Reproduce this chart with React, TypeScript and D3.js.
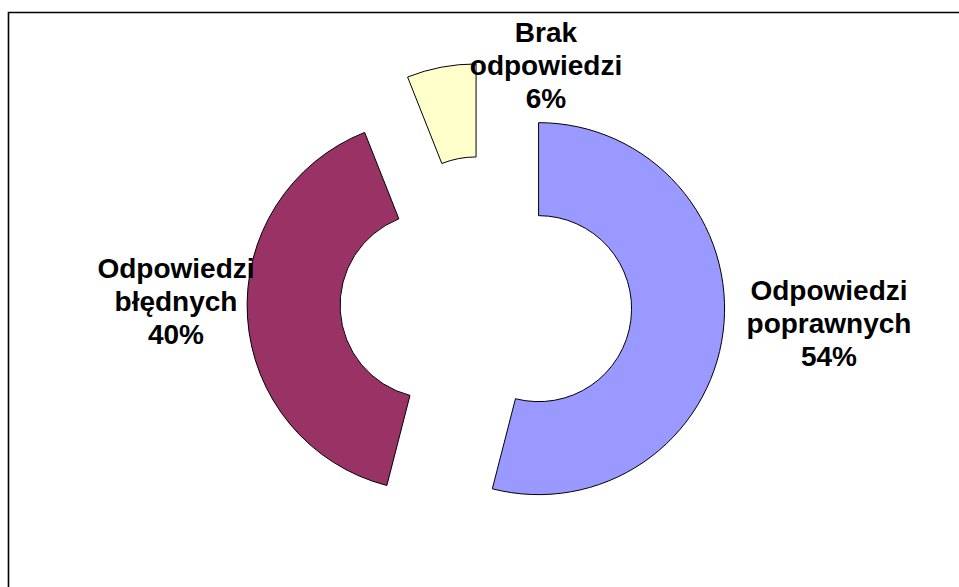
import React from "react";
import * as d3 from "d3";

// slice values (percent)
const categories = ["Odpowiedzi poprawnych", "Odpowiedzi błędnych", "Brak odpowiedzi"];
const values = [54, 40, 6];
const colors = ["#9999FF", "#993366", "#FFFFCC"];
// label text, one array of lines per slice
const labelLines = [
  ["Odpowiedzi", "poprawnych", "54%"],
  ["Odpowiedzi", "błędnych", "40%"],
  ["Brak", "odpowiedzi", "6%"],
];

const W = 959;
const H = 587;
const cx = 486;
const cy = 302;
const outerR = 186;
const innerR = 93;
const explode = 53;
const fontSize = 28;
const lineH = 33;
// label block centres (Excel places these by hand)
const labelPos = [
  [829, 323],
  [176, 301],
  [546, 65],
];

export default function App() {
  const pie = d3.pie<number>().sort(null).startAngle(0).endAngle(2 * Math.PI);
  const arcs = pie(values);
  const arc = d3.arc<d3.PieArcDatum<number>>().innerRadius(innerR).outerRadius(outerR);

  return (
    <svg
      width={W}
      height={H}
      style={{ position: "absolute", left: 0, top: 0, background: "#fff" }}
      fontFamily="'Liberation Sans', Arial, sans-serif"
    >
      <rect x={0} y={0} width={W} height={H} fill="#fff" />
      <path d={`M8.5,${H} V12.5 H${W}`} fill="none" stroke="#000" strokeWidth={1.6} />
      {arcs.map((a, i) => {
        const mid = (a.startAngle + a.endAngle) / 2;
        const dx = explode * Math.sin(mid);
        const dy = -explode * Math.cos(mid);
        return (
          <path
            key={categories[i]}
            d={arc(a) || ""}
            transform={`translate(${cx + dx},${cy + dy})`}
            fill={colors[i]}
            stroke="#000"
            strokeWidth={1}
          />
        );
      })}
      {labelLines.map((lines, i) => {
        const [lx, ly] = labelPos[i];
        const y0 = ly - ((lines.length - 1) * lineH) / 2;
        return (
          <text
            key={"lbl" + i}
            x={lx}
            textAnchor="middle"
            fontWeight="bold"
            fontSize={fontSize}
            fill="#000"
          >
            {lines.map((t, j) => (
              <tspan key={j} x={lx} y={y0 + j * lineH} dy="0.35em">
                {t}
              </tspan>
            ))}
          </text>
        );
      })}
    </svg>
  );
}
